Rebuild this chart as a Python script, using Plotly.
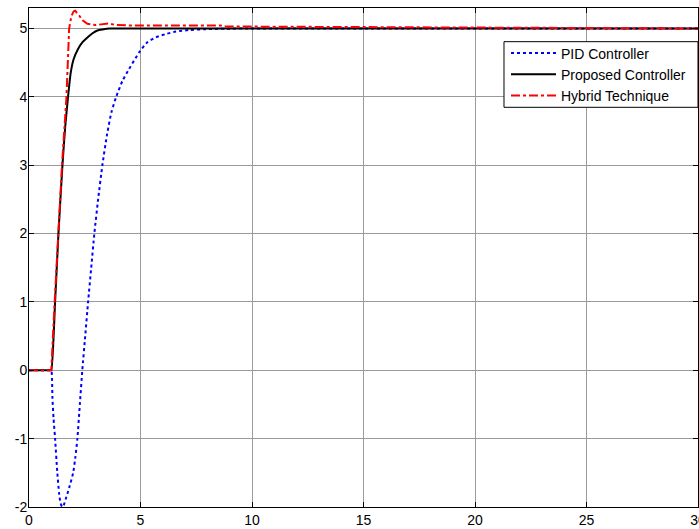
import plotly.graph_objects as go

# PID Controller (blue dotted)
pid_t = [0, 0.95, 1.0, 1.05, 1.1, 1.17, 1.27, 1.35, 1.42, 1.49, 1.56, 1.65, 1.8, 1.98, 2.08, 2.17,
         2.28, 2.39, 2.52, 2.65, 2.79, 2.93, 3.1, 3.29, 3.5, 3.7, 3.92, 4.2, 4.49, 4.94,
         5.31, 5.69, 6.14, 6.59, 7.18, 7.93, 8.8, 10.0, 15.0, 30.0]
pid_y = [0, 0, 0, -0.4, -0.7, -1.0, -1.5, -1.8, -1.95, -2.0, -1.97, -1.88, -1.72, -1.5, -1.27, -1.0,
         -0.5, 0.0, 0.5, 1.0, 1.5, 2.0, 2.5, 3.0, 3.45, 3.78, 4.01, 4.24, 4.41, 4.65,
         4.8, 4.87, 4.92, 4.955, 4.978, 4.99, 4.997, 5.0, 5.0, 5.0]

# Proposed Controller (black solid)
prop_t = [0, 0.95, 1.0, 1.17, 1.32, 1.5, 1.62, 1.75, 1.87, 2.0, 2.2, 2.4, 2.62, 2.85, 3.07, 3.3, 3.6, 4.0, 30.0]
prop_y = [0, 0, 0, 1.0, 2.0, 3.0, 3.55, 4.0, 4.35, 4.55, 4.7, 4.8, 4.87, 4.93, 4.97, 4.985, 5.0, 5.0, 5.0]

# Hybrid Technique (red dash-dot)
hyb_t = [0, 1.0, 1.15, 1.3, 1.48, 1.6, 1.68, 1.74, 1.8, 1.9, 2.0, 2.07, 2.15, 2.25, 2.4, 2.62,
         3.0, 3.3, 3.55, 3.9, 4.5, 8.6, 8.7, 12.0, 17.0, 22.0, 30.0]
hyb_y = [0, 0, 1.0, 2.0, 3.0, 3.6, 4.0, 4.5, 5.0, 5.18, 5.25, 5.26, 5.23, 5.19, 5.12, 5.07,
         5.05, 5.06, 5.075, 5.05, 5.045, 5.045, 5.03, 5.025, 5.015, 5.005, 5.0]

x_ticks = [0, 5, 10, 15, 20, 25, 30]
y_ticks = [-2, -1, 0, 1, 2, 3, 4, 5]

fig = go.Figure()
fig.add_trace(go.Scatter(x=pid_t, y=pid_y, mode="lines", name="PID Controller",
                         line=dict(color="#0000ff", width=2, dash="dot", shape="spline", smoothing=0.6)))
fig.add_trace(go.Scatter(x=prop_t, y=prop_y, mode="lines", name="Proposed Controller",
                         line=dict(color="#000000", width=2, shape="spline", smoothing=0.5)))
fig.add_trace(go.Scatter(x=hyb_t, y=hyb_y, mode="lines", name="Hybrid Technique",
                         line=dict(color="#ff0000", width=2, dash="dashdot")))

axis_common = dict(
    showline=True, linecolor="black", linewidth=1, mirror="ticks",
    ticks="inside", ticklen=5, tickcolor="black", tickwidth=1,
    showgrid=True, gridcolor="#9a9a9a", gridwidth=1,
    zeroline=False, ticklabeloverflow="allow", automargin=False,
    tickfont=dict(family="Liberation Sans, Arial", size=14, color="black"),
)

fig.update_layout(
    width=699, height=529,
    margin=dict(l=29, r=1, t=8, b=22, autoexpand=False),
    paper_bgcolor="white", plot_bgcolor="white",
    xaxis=dict(range=[0, 30], tickvals=x_ticks, ticktext=[str(v) for v in x_ticks], **axis_common),
    yaxis=dict(range=[-2, 5.3], tickvals=y_ticks, ticktext=[str(v) for v in y_ticks],
               ticklabelstandoff=-2, **axis_common),
    legend=dict(
        x=0.713, y=0.941, xanchor="left", yanchor="top",
        bgcolor="rgba(0,0,0,0)", borderwidth=0,
        font=dict(family="Liberation Sans, Arial", size=14, color="black"),
        tracegroupgap=0, itemwidth=45,
    ),
    shapes=[dict(type="rect", xref="paper", yref="paper",
                 x0=0.710, x1=1.0, y0=0.801, y1=0.9325,
                 fillcolor="white", line=dict(color="black", width=1), layer="above")],
    showlegend=True,
)

fig.write_html("out.html", config={"displayModeBar": False},
               post_script="document.body.style.margin='0';document.body.style.padding='0';")
